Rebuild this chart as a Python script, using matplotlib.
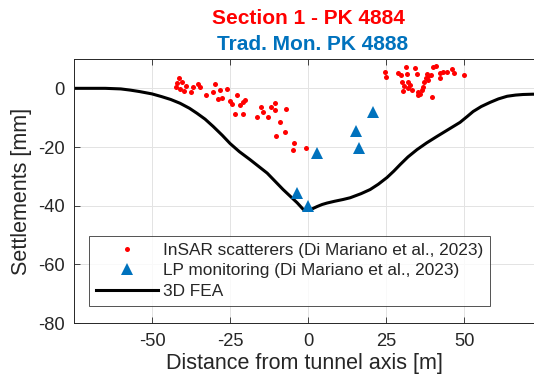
import matplotlib
matplotlib.use("Agg")
import matplotlib.pyplot as plt

plt.rcParams['font.family'] = ['Liberation Sans', 'DejaVu Sans']
plt.rcParams['axes.unicode_minus'] = False

# InSAR scatterers (distance [m], settlement [mm])
insar_x = [-41.3, -42.0, -40.4, -39.1, -39.7, -42.3, -41.0, -37.5, -36.9, -35.3,
           -34.6, -32.7, -30.4, -29.8, -28.2, -28.8, -27.6, -26.0, -25.0, -24.4,
           -22.8, -23.4, -21.8, -20.8, -20.2, -20.8, -16.3, -15.1, -14.4, -12.8,
           -11.9, -10.6, -10.6, -7.1, -9.0, -7.4, -10.3, -4.5, -4.8, -0.6,
           24.7, 25.0, 28.8, 29.8, 31.4, 31.7, 34.3, 34.9, 30.1, 30.8,
           32.1, 32.1, 32.7, 30.4, 33.3, 35.3, 35.3, 35.9, 36.9, 37.2,
           37.8, 38.5, 39.4, 38.1, 40.1, 41.0, 42.3, 43.3, 44.6, 42.3,
           46.2, 46.8, 50.0, 39.7, 36.5, 38.5]
insar_y = [3.4, 1.7, 2.1, 0.7, -1.0, 0.3, -0.3, -1.4, 0.3, 1.4,
           0.3, -2.4, -1.4, 1.4, -0.7, -3.8, -3.4, -0.3, -4.4, -5.5,
           -2.4, -8.9, -5.8, -4.8, -4.1, -8.9, -9.9, -6.5, -7.9, -9.9,
           -6.5, -5.1, -7.5, -7.2, -11.6, -15.0, -16.1, -18.5, -20.9, -20.2,
           5.5, 3.8, 5.1, 4.4, 7.2, 4.8, 6.8, 4.8, 2.1, 0.7,
           2.1, 0.0, 1.0, -1.0, -0.7, -1.4, -2.4, -2.1, 0.3, 2.1,
           3.4, 4.1, 4.4, 4.8, 7.2, 7.5, 5.1, 5.5, 5.5, 3.4,
           6.5, 5.1, 4.4, -3.1, -0.7, 2.7]

# LP monitoring
lp_x = [2.9, -3.5, 0.0, 15.4, 16.3, 20.8]
lp_y = [-21.9, -35.6, -40.0, -14.7, -20.2, -8.2]

# 3D FEA curve
fea_x = [-75, -65, -60, -57, -54, -50, -47, -44, -41, -38,
         -35.6, -33, -30.4, -27.5, -25, -22, -18.6, -13.1, -8.0, -3.5,
         -1.6, -1.0, 0.0, 1.5, 2.9, 4.5, 6.1, 8.5, 11.2, 13.5,
         17, 19.9, 22.5, 25.3, 27.5, 29.5, 32, 34.9, 38, 41.3,
         45, 48.7, 51, 52.9, 55.5, 58.3, 61, 63.8, 66.5, 68.9,
         72, 75]
fea_y = [0.0, 0.0, -0.2, -0.6, -1.1, -1.9, -2.8, -3.8, -5.1, -6.8,
         -8.5, -10.5, -13.0, -16.0, -18.8, -21.6, -24.3, -28.9, -34.5, -39.0,
         -41.2, -41.6, -41.6, -41.0, -40.3, -39.6, -39.1, -38.5, -37.9, -37.3,
         -35.9, -34.5, -32.7, -30.4, -28.2, -26.0, -23.4, -20.9, -18.6, -16.4,
         -14.0, -11.6, -9.6, -7.9, -6.2, -4.8, -3.6, -2.7, -2.3, -2.1,
         -2.0, -2.0]

xticks = [-50, -25, 0, 25, 50]
yticks = [0, -20, -40, -60, -80]

red = '#ff0000'
blue = '#0072bd'

fig = plt.figure(figsize=(5.34, 3.78), dpi=100)
ax = fig.add_axes([74/534, 1 - 323/378, 1 - 74/534, (323 - 59)/378])

ax.plot(insar_x, insar_y, 'o', color=red, markersize=3.6, markeredgewidth=0,
        label='InSAR scatterers (Di Mariano et al., 2023)', zorder=3)
ax.plot(lp_x, lp_y, '^', color=blue, markersize=8.5, markeredgewidth=0,
        label='LP monitoring (Di Mariano et al., 2023)', zorder=4)
ax.plot(fea_x, fea_y, '-', color='black', linewidth=2.2, label='3D FEA',
        zorder=2, solid_joinstyle='round')

ax.set_xlim(-75, 72.4)
ax.set_ylim(-80, 10)
ax.set_xticks(xticks)
ax.set_yticks(yticks)
ax.grid(True, color='#e3e3e3', linewidth=0.7)
ax.set_axisbelow(True)
ax.tick_params(direction='in', top=True, right=False, labelsize=13.2,
               colors='#262626', length=4, width=0.6, pad=7)
for s in ['left', 'top', 'bottom']:
    ax.spines[s].set_color('#262626')
    ax.spines[s].set_linewidth(0.7)
ax.spines['right'].set_visible(False)

ax.set_xlabel('Distance from tunnel axis [m]', fontsize=15.5, color='#262626', labelpad=2)
ax.set_ylabel('Settlements [mm]', fontsize=15.5, color='#262626', labelpad=4)

leg = ax.legend(loc='lower left', bbox_to_anchor=(89/534, 1 - 306/378),
                bbox_transform=fig.transFigure, fontsize=12.4, frameon=True,
                fancybox=False, edgecolor='#262626', handlelength=3.6,
                handletextpad=0.3, labelspacing=0.33, borderpad=0.4,
                borderaxespad=0)
leg.get_frame().set_linewidth(0.7)
for t in leg.get_texts():
    t.set_color('#262626')

fig.text(308/534, 1 - 18/378, 'Section 1 - PK 4884', color=red, fontsize=15,
         fontweight='bold', ha='center', va='center')
fig.text(313/534, 1 - 45/378, 'Trad. Mon. PK 4888', color=blue, fontsize=15,
         fontweight='bold', ha='center', va='center')

fig.savefig('out.png', dpi=100)
